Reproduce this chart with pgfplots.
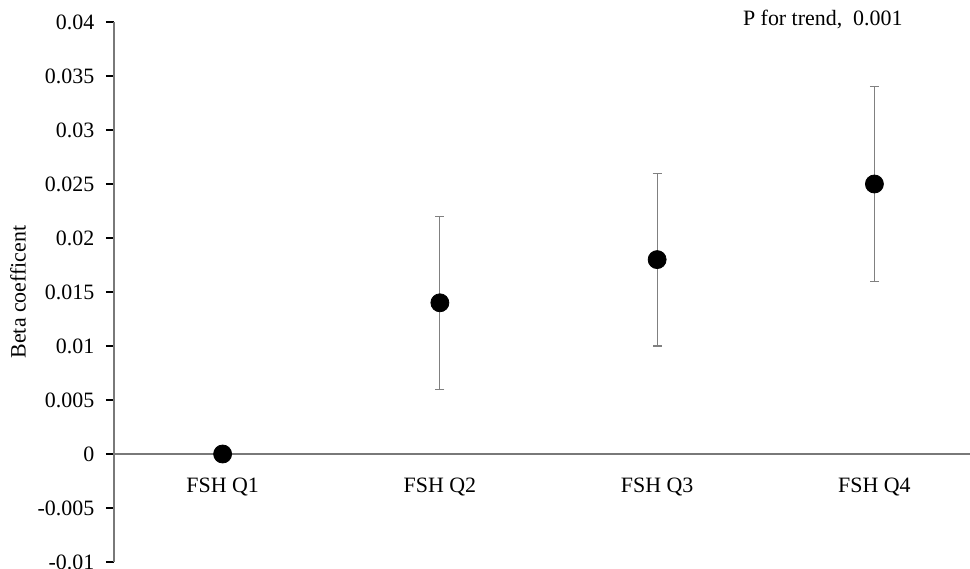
\documentclass[border=0pt]{standalone}
\usepackage{pgfplots}
\usepackage{pgfplotstable}
\pgfplotsset{compat=1.18}
\usepackage{fontspec}
\setmainfont{Liberation Serif}

% Beta coefficients by FSH quartile, with 95% confidence limits
\pgfplotstableread{
x  beta   lo     hi
0  0.000  0.000  0.000
1  0.014  0.006  0.022
2  0.018  0.010  0.026
3  0.025  0.016  0.034
}\betatable

\begin{document}
\fontsize{11}{13}\selectfont
\begin{tikzpicture}
\begin{axis}[
  scale only axis,
  width=428bp, height=270bp,
  xmin=-0.5, xmax=3.44,
  ymin=-0.01, ymax=0.04,
  scaled y ticks=false,
  axis x line*=middle,
  axis y line*=left,
  axis line style={draw=gray!95!black, line width=0.8bp},
  xtick={0,1,2,3},
  xticklabels={FSH Q1,FSH Q2,FSH Q3,FSH Q4},
  x tick label style={font=\fontsize{11}{13}\selectfont, yshift=-4bp},
  major x tick style={draw=none},
  ytick={-0.01,-0.005,0,0.005,0.01,0.015,0.02,0.025,0.03,0.035,0.04},
  yticklabels={-0.01,-0.005,0,0.005,0.01,0.015,0.02,0.025,0.03,0.035,0.04},
  y tick label style={font=\fontsize{11}{13}\selectfont, xshift=-2bp},
  tick align=outside,
  major tick length=4bp,
  ytick style={draw=black, line width=0.7bp},
  ylabel={Beta coefficent},
  ylabel style={at={(axis description cs:-0.112,0.5)}, anchor=center, font=\fontsize{11}{13}\selectfont},
  clip=false,
]
% confidence intervals
\addplot[draw=none, mark=none,
  error bars/.cd, y dir=both, y explicit, error bar style={line width=0.6bp, gray},
  error mark options={rotate=90, mark size=2.3bp, line width=0.6bp, gray}]
  table[x=x, y=beta, y error plus expr=\thisrow{hi}-\thisrow{beta}, y error minus expr=\thisrow{beta}-\thisrow{lo}]
  {\betatable};
% point estimates
\addplot[only marks, mark=*, mark size=4.5bp, mark options={fill=black, draw=black}]
  table[x=x, y=beta] {\betatable};
\node[anchor=west, font=\fontsize{11}{13}\selectfont] at (axis cs:2.36,0.0402) {P for trend,\ \ 0.001};
\end{axis}
\pgfresetboundingbox
\path[use as bounding box] ([xshift=-57bp,yshift=-3.5bp]current axis.south west) rectangle ([yshift=11bp]current axis.north east);
\end{tikzpicture}
\end{document}
